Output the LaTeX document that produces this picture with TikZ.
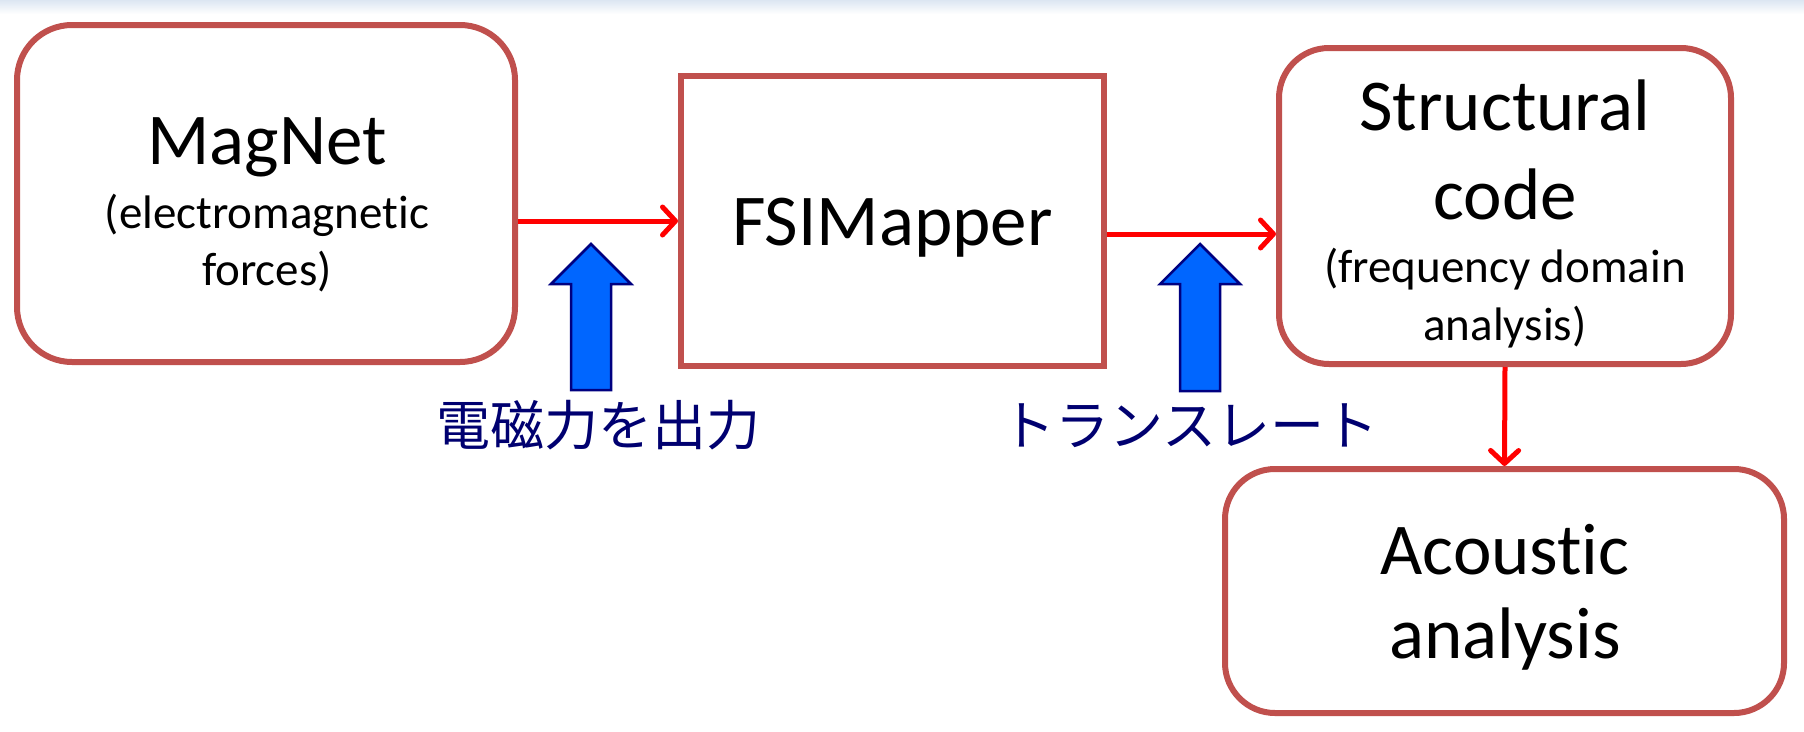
\documentclass[tikz,border=0pt]{standalone}
\usepackage{fontspec}
\setmainfont[Ligatures=NoCommon]{Carlito}
\newfontfamily\cjk{Noto Sans CJK JP}
\usetikzlibrary{arrows.meta,calc}
\definecolor{boxred}{HTML}{C0504D}
\definecolor{linkred}{HTML}{FF0000}
\definecolor{bluefill}{HTML}{0066FF}
\definecolor{bluedge}{HTML}{000080}
\definecolor{jptext}{HTML}{000070}
\definecolor{bgblue}{HTML}{DCE6F2}
\begin{document}
\begin{tikzpicture}[x=1pt,y=-1pt,
  box/.style={draw=boxred, line width=6pt, fill=white, inner sep=0pt},
  roundbox/.style={box, rounded corners=55pt},
  link/.style={draw=linkred, line width=5pt, -{Straight Barb[length=13pt,width=28pt,line cap=round,line join=round]}},
  bigtxt/.style={font=\fontsize{73}{88}\selectfont, anchor=base, inner sep=0pt},
  smalltxt/.style={font=\fontsize{47}{58}\selectfont, anchor=base, inner sep=0pt},
  jp/.style={font=\cjk\fontsize{54}{60}\selectfont, text=jptext, anchor=base, inner sep=0pt},
  bluearrow/.style={fill=bluefill, draw=bluedge, line width=2.5pt, line join=miter}]
\useasboundingbox (0,0) rectangle (1804,731);
\fill[white] (0,0) rectangle (1804,731);
\shade[top color=bgblue, bottom color=white] (0,0) rectangle (1804,14);

% boxes
\node[roundbox, minimum width=498pt, minimum height=337pt] (magnet) at (266,193.5) {};
\node[box, minimum width=423pt, minimum height=290pt] (fsi) at (892.5,221) {};
\node[roundbox, rounded corners=50pt, minimum width=452pt, minimum height=316pt] (struct) at (1505,206) {};
\node[roundbox, rounded corners=50pt, minimum width=559pt, minimum height=244pt] (acoustic) at (1504.5,591) {};

% texts
\node[bigtxt] (magnetT) at (267,164) {MagNet};
\node[smalltxt] (magnetS1) at (267,228) {(electromagnetic};
\node[smalltxt] (magnetS2) at (267,285) {forces)};
\node[bigtxt] (fsiT) at (892.5,245) {FSIMapper};
\node[bigtxt] (structT1) at (1505,130) {Structural};
\node[bigtxt] (structT2) at (1505,219) {code};
\node[smalltxt] (structS1) at (1505,282) {(frequency domain};
\node[smalltxt] (structS2) at (1505,340) {analysis)};
\node[bigtxt] (acT1) at (1505,574) {Acoustic};
\node[bigtxt] (acT2) at (1505,658) {analysis};

% red connectors
\draw[link] (magnet.east |- fsi.west) -- (fsi.west);
\coordinate (a2) at ($(fsi.east)+(0,13)$);
\draw[link] (a2) -- (a2 -| struct.west);
\draw[link] (struct.south) -- (acoustic.north);

% blue block arrows
\draw[bluearrow] (591,244) coordinate (b1tip) -- (631,284) -- (611,284) -- (611,390) -- (571,390) -- (571,284) -- (551,284) -- cycle;
\draw[bluearrow] (1200,244) coordinate (b2tip) -- (1240,284) -- (1220,284) -- (1220,391) -- (1180,391) -- (1180,284) -- (1160,284) -- cycle;

% Japanese labels
\node[jp] (jp1) at (598,445) {電磁力を出力};
\node[jp] (jp2) at (1190,445) {トランスレート};
\end{tikzpicture}
\end{document}
